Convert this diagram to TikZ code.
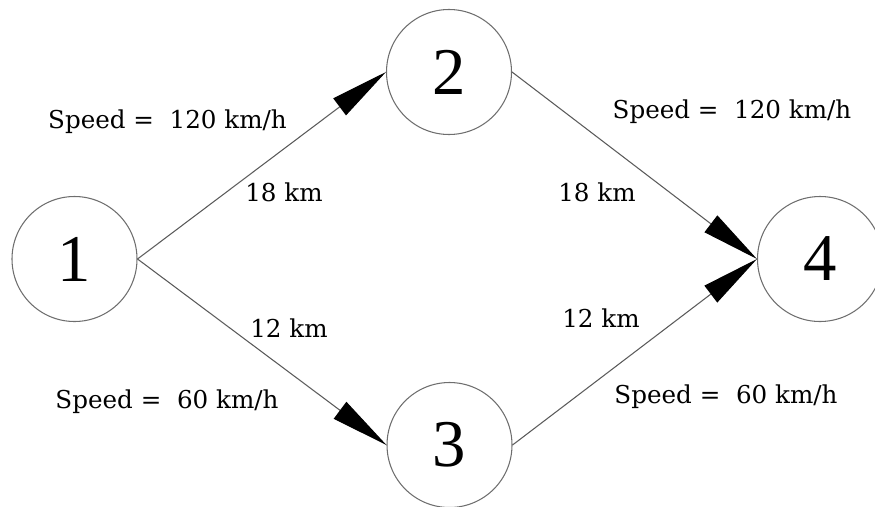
\documentclass[tikz,border=0pt]{standalone}
\definecolor{edgegray}{RGB}{90, 90, 90}
\definecolor{ringgray}{RGB}{110, 110, 110}
\usepackage{fontspec}
\setmainfont{DejaVu Serif}
\newfontfamily\digitfont{Liberation Serif}
\usepackage{tikz}
\usetikzlibrary{arrows.meta,positioning}

\tikzset{
    city/.style={circle, draw=ringgray, line width=0.6pt, minimum size=2.5cm, inner sep=0pt, font=\digitfont\fontsize{38}{38}\selectfont},
    road/.style={-{Triangle[length=1.16cm, width=0.42cm, black]}, line width=0.6pt, color=edgegray},
    tag/.style={font=\fontsize{14}{16}\selectfont}
}

\begin{document}
\begin{tikzpicture}
    \useasboundingbox (0,0) rectangle (17.5,10.12);

    \node[city] (n1) at (1.49,4.94) {1};
    \node[city] (n2) at (8.98,8.68) {2};
    \node[city] (n3) at (8.99,1.22) {3};
    \node[city] (n4) at (16.4,4.94) {4};

    % Distances and speeds
    \node[tag] (v12) at (3.35,7.68) {Speed = \ 120 km/h};
    \node[tag] (d12) at (5.68,6.28) {18 km};
    \node[tag] (d24) at (11.94,6.28) {18 km};
    \node[tag] (v24) at (14.64,7.88) {Speed = \ 120 km/h};
    \node[tag] (d13) at (5.78,3.56) {12 km};
    \node[tag] (d34) at (12.02,3.76) {12 km};
    \node[tag] (v13) at (3.34,2.08) {Speed = \ 60 km/h};
    \node[tag] (v34) at (14.52,2.18) {Speed = \ 60 km/h};

    \draw[road] (n1.east) -- (n2.west);
    \draw[road] (n1.east) -- (n3.west);
    \draw[road] (n2.east) -- (n4.west);
    \draw[road] (n3.east) -- (n4.west);
\end{tikzpicture}
\end{document}
